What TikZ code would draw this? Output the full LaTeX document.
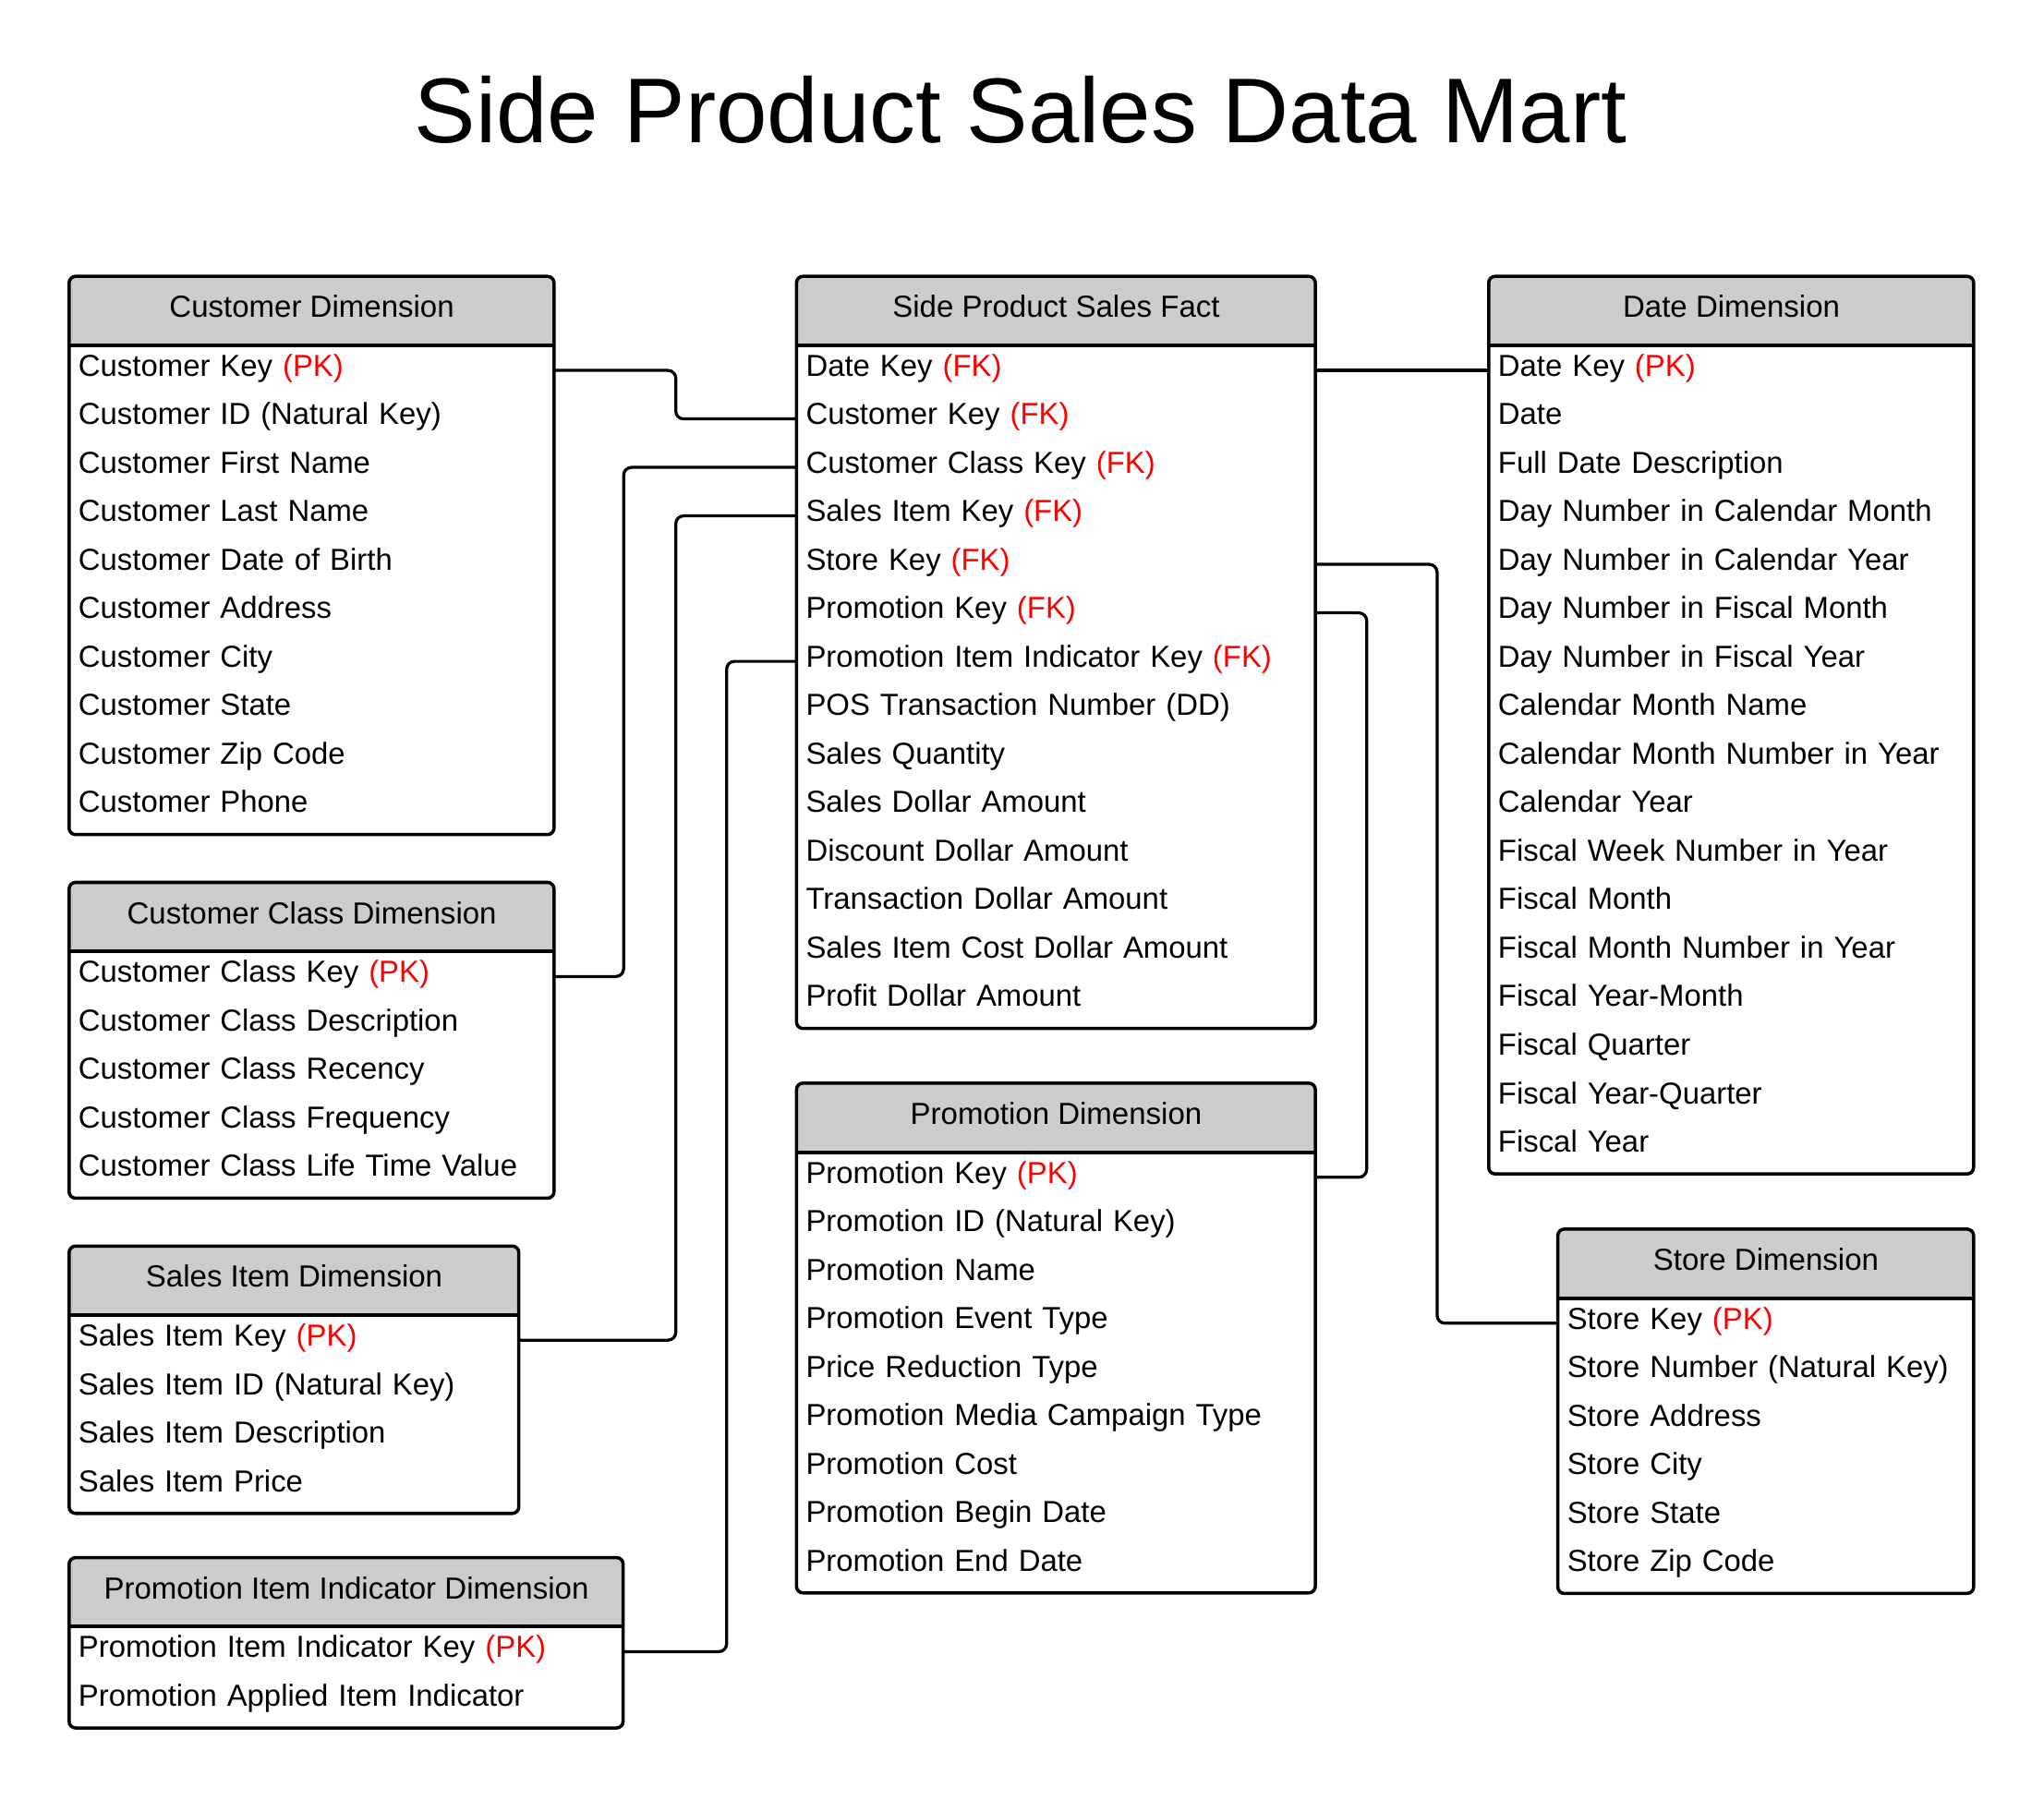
\documentclass[tikz,border=0pt]{standalone}
\usepackage{fontspec}
\setmainfont{Liberation Sans}
\definecolor{hdrgray}{RGB}{204,204,204}
\definecolor{keyred}{RGB}{255,0,0}
\newcommand\pk{\textcolor{keyred}{(PK)}}
\newcommand\fk{\textcolor{keyred}{(FK)}}
\tikzset{
 hdrtxt/.style={inner sep=0pt, minimum height=53pt, text height=18pt, text depth=8.2pt, font=\fontsize{23.4}{28}\selectfont},
 rowtxt/.style={inner xsep=7pt, inner ysep=0pt, minimum height=37.2pt, text height=18pt, text depth=9pt, align=left, font=\fontsize{23.3}{28}\selectfont},
 border/.style={draw=black, line width=2.5pt, rounded corners=5pt},
 sepline/.style={draw=black, line width=2.8pt},
 conn/.style={draw=black, line width=2.3pt, rounded corners=6pt},
}
% #1 name, #2 left, #3 top, #4 width, #5 title, #6 rows, #7 list
\newcommand\ertable[7]{%
 \pgfmathsetmacro\ertB{#3+56.3+#6*37.2}%
 \pgfmathsetmacro\ertR{#2+#4}%
 \pgfmathsetmacro\ertH{#3+53}%
 \pgfmathsetmacro\ertTW{#4-14}%
 \fill[white, rounded corners=5pt] (#2,#3) rectangle (\ertR,\ertB);
 \begin{scope}
  \clip[rounded corners=5pt] (#2,#3) rectangle (\ertR,\ertB);
  \fill[hdrgray] (#2,#3) rectangle (\ertR,\ertH);
 \end{scope}
 \node[hdrtxt, minimum width=#4pt, anchor=north west] (#1-h) at (#2,#3) {#5};
 \draw[sepline] (#2,\ertH) -- (\ertR,\ertH);
 \draw[border] (#2,#3) rectangle (\ertR,\ertB);
 \foreach \rtext [count=\ri] in {#7} {
  \node[rowtxt, text width=\ertTW pt, anchor=north west] (#1-\ri) at (#2,{#3+53.4+(\ri-1)*37.2}) {\rtext};
 }
}
\begin{document}
\begin{tikzpicture}[x=1pt,y=-1pt]
\useasboundingbox (0,0) rectangle (1568,1380);
\node[font=\fontsize{70.6}{80}\selectfont, inner sep=0pt] (title) at (783,84) {Side Product Sales Data Mart};

\ertable{cust}{53}{212}{372}{Customer Dimension}{10}{
 Customer Key \pk,
 Customer ID (Natural Key),
 Customer First Name,
 Customer Last Name,
 Customer Date of Birth,
 Customer Address,
 Customer City,
 Customer State,
 Customer Zip Code,
 Customer Phone}

\ertable{cls}{53}{677}{372}{Customer Class Dimension}{5}{
 Customer Class Key \pk,
 Customer Class Description,
 Customer Class Recency,
 Customer Class Frequency,
 Customer Class Life Time Value}

\ertable{item}{53}{956}{345}{Sales Item Dimension}{4}{
 Sales Item Key \pk,
 Sales Item ID (Natural Key),
 Sales Item Description,
 Sales Item Price}

\ertable{pii}{53}{1195}{425}{Promotion Item Indicator Dimension}{2}{
 Promotion Item Indicator Key \pk,
 Promotion Applied Item Indicator}

\ertable{fact}{611}{212}{398}{Side Product Sales Fact}{14}{
 Date Key \fk,
 Customer Key \fk,
 Customer Class Key \fk,
 Sales Item Key \fk,
 Store Key \fk,
 Promotion Key \fk,
 Promotion Item Indicator Key \fk,
 POS Transaction Number (DD),
 Sales Quantity,
 Sales Dollar Amount,
 Discount Dollar Amount,
 Transaction Dollar Amount,
 Sales Item Cost Dollar Amount,
 Profit Dollar Amount}

\ertable{promo}{611}{831}{398}{Promotion Dimension}{9}{
 Promotion Key \pk,
 Promotion ID (Natural Key),
 Promotion Name,
 Promotion Event Type,
 Price Reduction Type,
 Promotion Media Campaign Type,
 Promotion Cost,
 Promotion Begin Date,
 Promotion End Date}

\ertable{date}{1142}{212}{372}{Date Dimension}{17}{
 Date Key \pk,
 Date,
 Full Date Description,
 Day Number in Calendar Month,
 Day Number in Calendar Year,
 Day Number in Fiscal Month,
 Day Number in Fiscal Year,
 Calendar Month Name,
 Calendar Month Number in Year,
 Calendar Year,
 Fiscal Week Number in Year,
 Fiscal Month,
 Fiscal Month Number in Year,
 Fiscal Year-Month,
 Fiscal Quarter,
 Fiscal Year-Quarter,
 Fiscal Year}

\ertable{store}{1195}{943}{319}{Store Dimension}{6}{
 Store Key \pk,
 Store Number (Natural Key),
 Store Address,
 Store City,
 Store State,
 Store Zip Code}

% connectors
\draw[conn] (cust-1.east) -- ++(93,0) |- (fact-2.west);
\draw[conn] (cls-1.east) -- ++(53,0) |- (fact-3.west);
\draw[conn] (item-1.east) -- ++(120,0) |- (fact-4.west);
\draw[conn] (pii-1.east) -- ++(79,0) |- (fact-7.west);
\draw[conn] (fact-1.east) -- (date-1.west);
\draw[conn] (fact-5.east) -- ++(93,0) |- (store-1.west);
\draw[conn] (fact-6.east) -- ++(39,0) |- (promo-1.east);
\end{tikzpicture}
\end{document}
